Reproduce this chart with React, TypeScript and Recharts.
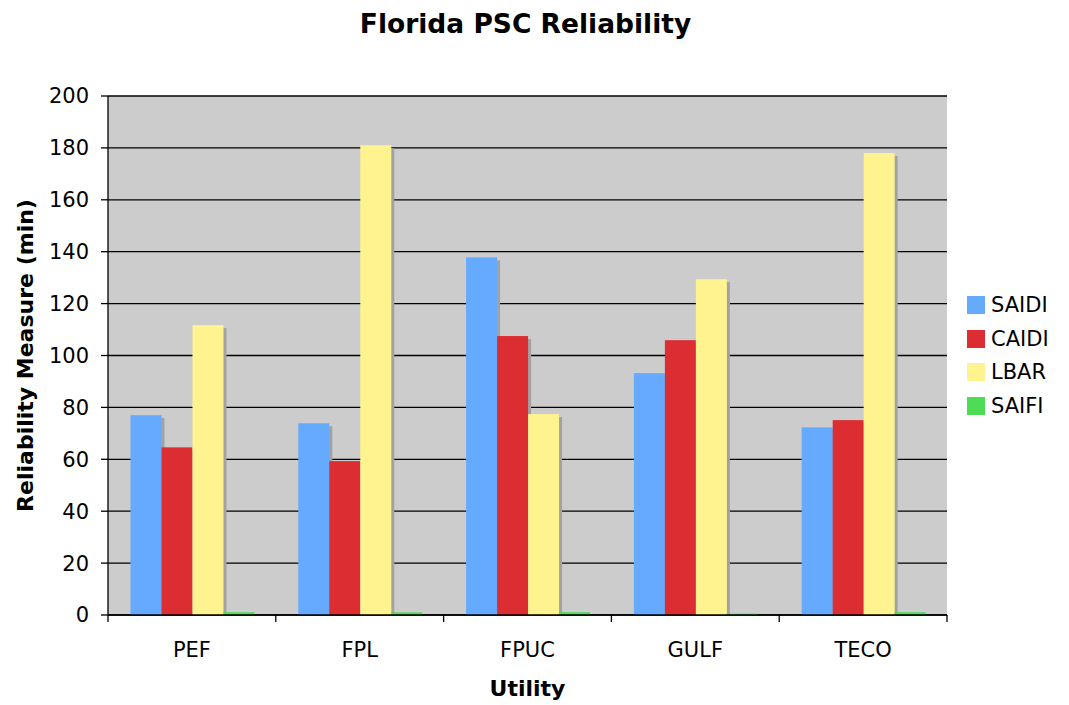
import React from "react";
import {
  BarChart,
  Bar,
  XAxis,
  YAxis,
  CartesianGrid,
  Legend,
} from "recharts";

// Utility companies on the x axis
const utilities = ["PEF", "FPL", "FPUC", "GULF", "TECO"];

// Reliability measures per utility
const saidi = [77.0, 73.9, 137.8, 93.2, 72.3];
const caidi = [64.6, 59.3, 107.5, 105.9, 75.1];
const lbar = [111.7, 181.0, 77.4, 129.4, 178.0];
const saifi = [1.06, 1.0, 1.06, 0.5, 1.06];

const yTicks = [0, 20, 40, 60, 80, 100, 120, 140, 160, 180, 200];

const seriesList = [
  { key: "SAIDI", color: "#66AAFF" },
  { key: "CAIDI", color: "#DC2D33" },
  { key: "LBAR", color: "#FFF38F" },
  { key: "SAIFI", color: "#4EDC55" },
];

const data = utilities.map((name, i) => ({
  name,
  SAIDI: saidi[i],
  CAIDI: caidi[i],
  LBAR: lbar[i],
  SAIFI: saifi[i],
}));

const FONT = "'DejaVu Sans', Verdana, sans-serif";

const CHART_W = 1053;
const CHART_H = 697;
const MARGIN = { top: 88, right: 114, bottom: 8, left: 0 };
const Y_AXIS_W = 100;
const X_AXIS_H = 82;
const PLOT_W = CHART_W - MARGIN.left - MARGIN.right - Y_AXIS_W;
const BAND = PLOT_W / utilities.length;

// bar with a small drop shadow, like the old Excel charts
const ShadowBar = (props: any) => {
  const { x, y, width, height, fill } = props;
  if (!height || height <= 0) return null;
  const sh = Math.max(height - 3, 0);
  return (
    <g>
      {sh > 0 && (
        <rect x={x + 3} y={y + 3} width={width} height={sh} fill="#A2A2A2" />
      )}
      <rect x={x} y={y} width={width} height={height} fill={fill} />
    </g>
  );
};

// category label in the middle, tick marks between categories
const UtilityTick = (props: any) => {
  const { x, y, payload, index } = props;
  const half = BAND / 2;
  return (
    <g>
      <line x1={x - half} y1={y - 8} x2={x - half} y2={y - 1} stroke="#000" strokeWidth={1.3} />
      {index === utilities.length - 1 && (
        <line x1={x + half} y1={y - 8} x2={x + half} y2={y - 1} stroke="#000" strokeWidth={1.3} />
      )}
      <text
        x={x}
        y={y + 34}
        textAnchor="middle"
        fontSize={21}
        fontFamily={FONT}
        fill="#000"
      >
        {payload.value}
      </text>
    </g>
  );
};

const YTitle = (props: any) => {
  const { viewBox } = props;
  const cy = viewBox.y + viewBox.height / 2;
  return (
    <text
      x={17}
      y={cy}
      transform={`rotate(-90, 17, ${cy})`}
      textAnchor="middle"
      dominantBaseline="central"
      fontSize={22}
      fontWeight="bold"
      fontFamily={FONT}
      fill="#000"
    >
      Reliability Measure (min)
    </text>
  );
};

const XTitle = (props: any) => {
  const { viewBox } = props;
  return (
    <text
      x={viewBox.x + viewBox.width / 2}
      y={680}
      textAnchor="middle"
      dominantBaseline="central"
      fontSize={22}
      fontWeight="bold"
      fontFamily={FONT}
      fill="#000"
    >
      Utility
    </text>
  );
};

const LegendBox = () => (
  <div style={{ fontFamily: FONT, fontSize: 21, color: "#000" }}>
    {seriesList.map((s) => (
      <div
        key={s.key}
        style={{ display: "flex", alignItems: "center", height: 33.7 }}
      >
        <span
          style={{
            display: "inline-block",
            width: 18,
            height: 18,
            background: s.color,
            marginRight: 6,
          }}
        />
        <span>{s.key}</span>
      </div>
    ))}
  </div>
);

export default function App() {
  return (
    <div style={{ position: "relative", width: CHART_W, height: CHART_H, background: "#fff" }}>
      <div
        style={{
          position: "absolute",
          left: 0,
          top: 0,
          width: 1035,
          textAlign: "center",
          fontFamily: FONT,
          fontWeight: "bold",
          fontSize: 26.5,
        }}
      >
        Florida PSC Reliability
      </div>
      <BarChart
        width={CHART_W}
        height={CHART_H}
        data={data}
        margin={MARGIN}
        barCategoryGap="13.4%"
        barGap={0}
      >
        <CartesianGrid
          vertical={false}
          stroke="#000"
          strokeWidth={1.3}
          fill="#CCCCCC"
          fillOpacity={1}
        />
        <XAxis
          dataKey="name"
          height={X_AXIS_H}
          axisLine={{ stroke: "#000", strokeWidth: 1.3 }}
          tickLine={false}
          tick={<UtilityTick />}
          interval={0}
          label={<XTitle />}
        />
        <XAxis
          xAxisId="top"
          orientation="top"
          dataKey="name"
          height={0}
          tick={false}
          tickLine={false}
          axisLine={{ stroke: "#808080", strokeWidth: 1.5 }}
        />
        <YAxis
          domain={[0, 200]}
          ticks={yTicks}
          width={Y_AXIS_W}
          interval={0}
          axisLine={{ stroke: "#000", strokeWidth: 1.3 }}
          tickLine={{ stroke: "#000", strokeWidth: 1.3 }}
          tickSize={7}
          tickMargin={12}
          tick={{ fontSize: 21, fontFamily: FONT, fill: "#000" }}
          label={<YTitle />}
        />
        <YAxis
          yAxisId="right"
          orientation="right"
          width={0}
          domain={[0, 200]}
          tick={false}
          tickLine={false}
          axisLine={{ stroke: "#808080", strokeWidth: 1.5 }}
        />
        <Legend
          layout="vertical"
          align="center"
          verticalAlign="middle"
          content={<LegendBox />}
          wrapperStyle={{ left: 959, top: 280, width: 100 }}
        />
        {seriesList.map((s) => (
          <Bar
            key={s.key}
            dataKey={s.key}
            fill={s.color}
            shape={<ShadowBar />}
            isAnimationActive={false}
          />
        ))}
      </BarChart>
    </div>
  );
}
